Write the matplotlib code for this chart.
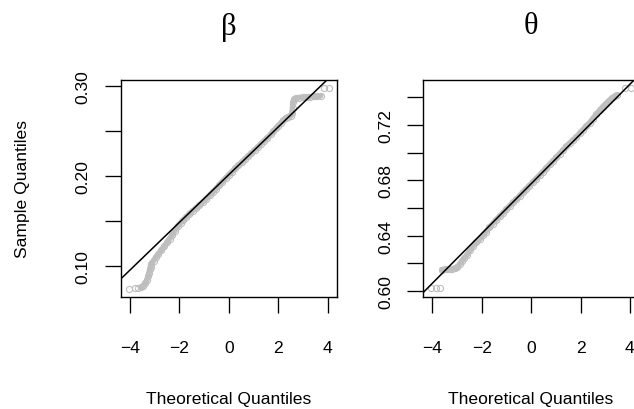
import matplotlib
matplotlib.use("Agg")
import matplotlib.pyplot as plt

# normal QQ plots of posterior draws for beta and theta

# beta: theoretical vs sample quantiles (dense part, drawn as a band)
beta_theo = [-3.55, -3.46, -3.38, -3.32, -3.27, -3.23, -3.20, -3.17, -3.14,
             -3.05, -2.95, -2.85, -2.74, -2.62, -2.50, -2.40, -2.30, -2.20,
             -2.07, -1.95, -1.85, -1.73, -1.60, -1.47, -1.33, -1.19, -1.05,
             -0.92, -0.78, -0.65, -0.52, -0.39, -0.26, -0.13, 0.00, 0.13,
             0.26, 0.39, 0.52, 0.65, 0.78, 0.91, 1.04, 1.17, 1.30, 1.43,
             1.56, 1.69, 1.80, 1.91, 2.01, 2.11, 2.21, 2.31, 2.41, 2.50,
             2.56, 2.58, 2.60, 2.64, 2.72, 2.85, 3.00, 3.15, 3.30, 3.45,
             3.58, 3.72]
beta_samp = [0.0757, 0.0775, 0.0805, 0.0840, 0.0880, 0.0920, 0.0960, 0.0990,
             0.1022, 0.1055, 0.1095, 0.1130, 0.1170, 0.1215, 0.1258, 0.1300,
             0.1340, 0.1385, 0.1440, 0.1478, 0.1505, 0.1541, 0.1576, 0.1610,
             0.1640, 0.1672, 0.1710, 0.1745, 0.1783, 0.1819, 0.1857, 0.1895,
             0.1935, 0.1975, 0.2012, 0.2047, 0.2082, 0.2116, 0.2150, 0.2186,
             0.2220, 0.2252, 0.2287, 0.2320, 0.2357, 0.2390, 0.2425, 0.2462,
             0.2497, 0.2528, 0.2560, 0.2590, 0.2620, 0.2645, 0.2660, 0.2668,
             0.2700, 0.2760, 0.2820, 0.2850, 0.2868, 0.2872, 0.2876, 0.2879,
             0.2881, 0.2884, 0.2887, 0.2890]
# isolated extreme draws
beta_ext_theo = [-4.05, -3.82, -3.66, 3.84, 4.05]
beta_ext_samp = [0.0745, 0.0746, 0.0748, 0.2978, 0.2978]
beta_quart = [0.1834, 0.2192]

theta_theo = [-3.62, -3.50, -3.40, -3.30, -3.20, -3.10, -3.00, -2.90, -2.80,
              -2.70, -2.60, -2.48, -2.36, -2.22, -2.09, -1.96, -1.83, -1.69,
              -1.56, -1.42, -1.28, -1.14, -1.00, -0.87, -0.74, -0.60, -0.47,
              -0.34, -0.20, -0.07, 0.07, 0.20, 0.34, 0.47, 0.61, 0.75, 0.88,
              1.02, 1.15, 1.29, 1.43, 1.56, 1.70, 1.83, 1.96, 2.10, 2.23,
              2.37, 2.50, 2.64, 2.78, 2.90, 3.02, 3.14, 3.26, 3.38, 3.46]
theta_samp = [0.6155, 0.6157, 0.6158, 0.6160, 0.6162, 0.6165, 0.6172, 0.6195,
              0.6220, 0.6242, 0.6262, 0.6295, 0.6327, 0.6352, 0.6375, 0.6402,
              0.6430, 0.6460, 0.6487, 0.6515, 0.6540, 0.6565, 0.6592, 0.6617,
              0.6640, 0.6662, 0.6688, 0.6712, 0.6738, 0.6762, 0.6788, 0.6812,
              0.6837, 0.6862, 0.6888, 0.6915, 0.6940, 0.6965, 0.6992, 0.7018,
              0.7045, 0.7068, 0.7090, 0.7113, 0.7138, 0.7165, 0.7190, 0.7215,
              0.7245, 0.7275, 0.7305, 0.7330, 0.7352, 0.7372, 0.7392, 0.7405,
              0.7415]
theta_ext_theo = [-4.05, -3.84, -3.68, 3.80, 4.05]
theta_ext_samp = [0.6022, 0.6022, 0.6025, 0.7465, 0.7465]
theta_quart = [0.6654, 0.6896]

x_ticks = [-4, -2, 0, 2, 4]
beta_yticks = [0.10, 0.15, 0.20, 0.25, 0.30]
beta_ylabels = ["0.10", "", "0.20", "", "0.30"]
theta_yticks = [0.60, 0.62, 0.64, 0.66, 0.68, 0.70, 0.72, 0.74]
theta_ylabels = ["0.60", "", "0.64", "", "0.68", "", "0.72", ""]

plt.rcParams["font.family"] = ["Liberation Sans", "DejaVu Sans"]
GRAY = "#BEBEBE"
Z75 = 0.6745  # qnorm(0.75)

fig = plt.figure(figsize=(6.34, 4.10), dpi=100)
W, H = 634.0, 410.0
ax1 = fig.add_axes([120.7 / W, (H - 297.5) / H, 216.3 / W, 216.5 / H])
ax2 = fig.add_axes([423.0 / W, (H - 297.5) / H, 216.3 / W, 216.5 / H])


def qqpanel(ax, tq, sq, etq, esq, quart, ylim, yticks, ylabels):
    # dense middle: overlapping circles merge into a band
    ax.plot(tq, sq, color=GRAY, lw=4.0, solid_capstyle="round",
            solid_joinstyle="round", zorder=2)
    ax.plot(tq, sq, ls="none", marker="o", ms=4.4, mfc="none", mec=GRAY,
            mew=0.8, zorder=2)
    ax.plot(etq, esq, ls="none", marker="o", ms=4.4, mfc="none", mec=GRAY,
            mew=0.8, zorder=2)
    # qqline through the quartiles
    ax.axline((-Z75, quart[0]), (Z75, quart[1]), color="black", lw=1.1,
              zorder=3)
    ax.set_xlim(-4.38, 4.38)
    ax.set_ylim(*ylim)
    ax.set_xticks(x_ticks)
    ax.set_yticks(yticks)
    ax.set_yticklabels(ylabels, rotation=90, va="center")
    ax.tick_params(direction="out", length=11.5, width=0.95,
                   labelsize=12.6, color="black")
    ax.tick_params(axis="x", pad=20)
    ax.tick_params(axis="y", pad=10)
    for sp in ax.spines.values():
        sp.set_linewidth(1.0)


qqpanel(ax1, beta_theo, beta_samp, beta_ext_theo, beta_ext_samp, beta_quart,
        (0.0656, 0.3067), beta_yticks, beta_ylabels)
qqpanel(ax2, theta_theo, theta_samp, theta_ext_theo, theta_ext_samp,
        theta_quart, (0.5962, 0.7523), theta_yticks, theta_ylabels)

for cx, greek in [(229.0, "β"), (531.0, "θ")]:
    fig.text(cx / W, 1 - 27 / H, greek, ha="center", va="center",
             family=["Liberation Serif", "DejaVu Serif"], fontsize=22)
    fig.text(cx / W, 1 - 400 / H, "Theoretical Quantiles", ha="center",
             va="center", fontsize=12.6)
fig.text(23 / W, 1 - 189 / H, "Sample Quantiles", rotation=90, ha="center",
         va="center", fontsize=12.6)

fig.savefig("out.png", dpi=100)
